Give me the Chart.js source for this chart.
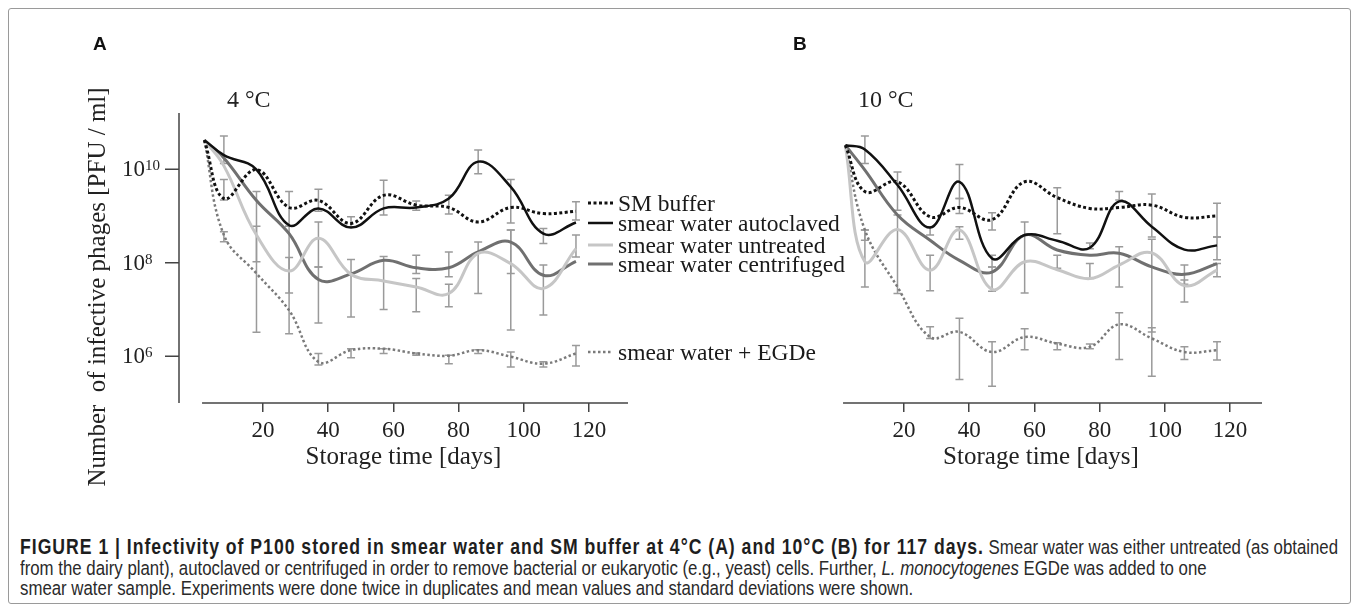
<!DOCTYPE html>
<html>
<head>
<meta charset="utf-8">
<script src="https://cdn.jsdelivr.net/npm/chart.js@4.4.1/dist/chart.umd.min.js"></script>
<style>
  body { margin: 0; background: #fff; width: 1358px; height: 604px; position: relative; overflow: hidden; font-family: "Liberation Serif", serif; }
  .frame { position: absolute; left: 8px; top: 8px; width: 1341px; height: 594px; border: 1px solid #9a9a9a; border-radius: 3px; }
  #chartA { position: absolute; left: 0; top: 0; }
  #chartB { position: absolute; left: 780px; top: 0; }
  .panel { position: absolute; top: 34px; font-family: "Liberation Sans", Arial, sans-serif; font-weight: bold; font-size: 19px; line-height: 1; color: #111; }
  .temp { position: absolute; top: 87px; font-size: 24px; line-height: 1; color: #222; }
  .caption { position: absolute; left: 20px; top: 537px; font-family: "Liberation Sans", Arial, sans-serif; font-size: 20.5px; line-height: 20.5px; color: #2a2a2a; white-space: nowrap; transform: scaleX(0.82); transform-origin: 0 0; }
  .caption b { font-size: 21.5px; letter-spacing: 1.2px; color: #1e1e1e; }
</style>
</head>
<body>
<div class="frame"></div>
<canvas id="chartA" width="860" height="520"></canvas>
<canvas id="chartB" width="578" height="520"></canvas>
<div class="panel" style="left:93px">A</div>
<div class="panel" style="left:793px">B</div>
<div class="temp" style="left:227px">4 °C</div>
<div class="temp" style="left:858px">10 °C</div>
<div class="caption">
<b>FIGURE 1 | Infectivity of P100 stored in smear water and SM buffer at 4°C (A) and 10°C (B) for 117 days.</b> Smear water was either untreated (as obtained<br>
from the dairy plant), autoclaved or centrifuged in order to remove bacterial or eukaryotic (e.g., yeast) cells. Further, <i>L. monocytogenes</i> EGDe was added to one<br>
smear water sample. Experiments were done twice in duplicates and mean values and standard deviations were shown.
</div>
<script>
// storage days (x) and axis ticks
const days = [2, 8, 18, 28, 37, 47, 57, 67, 77, 86, 96, 106, 116];
const xTicks = [20, 40, 60, 80, 100, 120];
const yTicks = [6, 8, 10];   // log10 PFU/ml

const seriesNames = ['SM buffer', 'smear water autoclaved', 'smear water untreated', 'smear water centrifuged', 'smear water + EGDe'];

// 4 °C, log10(PFU/ml)
const aSM   = [10.62, 9.37, 9.99, 9.18, 9.33, 8.84, 9.44, 9.23, 9.18, 8.87, 9.18, 9.05, 9.10];
const aAuto = [10.62, 10.30, 9.99, 8.80, 9.16, 8.75, 9.16, 9.18, 9.37, 10.16, 9.62, 8.62, 8.86];
const aUntr = [10.62, 10.07, 8.59, 7.82, 8.52, 7.75, 7.61, 7.48, 7.34, 8.20, 7.98, 7.45, 8.30];
const aCent = [10.62, 10.24, 9.33, 8.62, 7.64, 7.76, 8.05, 7.89, 7.89, 8.23, 8.44, 7.73, 8.03];
const aEGDe = [10.62, 8.59, 7.77, 6.98, 5.88, 6.13, 6.16, 6.06, 6.01, 6.13, 5.99, 5.84, 6.06];

// 10 °C, log10(PFU/ml)
const bSM   = [10.51, 9.52, 9.73, 8.98, 9.18, 8.92, 9.73, 9.39, 9.16, 9.18, 9.23, 8.97, 9.00];
const bAuto = [10.51, 10.42, 9.66, 8.75, 9.73, 8.09, 8.59, 8.47, 8.32, 9.31, 8.77, 8.28, 8.37];
const bUntr = [10.51, 8.02, 8.71, 7.84, 8.70, 7.43, 8.02, 7.85, 7.66, 7.95, 8.21, 7.51, 7.84];
const bCent = [10.51, 9.98, 9.02, 8.48, 8.05, 7.80, 8.59, 8.27, 8.16, 8.20, 7.91, 7.75, 7.98];
const bEGDe = [10.51, 8.70, 7.48, 6.41, 6.52, 6.09, 6.41, 6.27, 6.20, 6.68, 6.38, 6.09, 6.13];

// error bar ends [low, high], log10(PFU/ml)
const aSMErr   = [null, [9.34, 9.78], null, [8.78, 9.52], [9.10, 9.57], [8.77, 8.98], [9.02, 9.76], [9.12, 9.32], [9.04, 9.44], null, null, null, [8.91, 9.30]];
const aAutoErr = [null, [10.12, 10.71], null, null, null, null, null, null, null, [9.90, 10.41], [8.85, 9.78], [8.41, 8.73], null];
const aUntrErr = [null, null, [6.51, 8.78], [6.48, 8.11], [7.91, 8.87], [6.84, 8.07], [7.00, 8.13], [6.95, 7.66], [7.06, 7.54], null, [7.77, 8.70], [6.88, 7.95], [8.12, 8.59]];
const aCentErr = [null, null, [8.02, 9.52], [7.35, 8.78], [6.71, 7.91], null, null, [7.77, 8.16], [7.70, 8.23], [7.34, 8.44], [6.56, 8.70], null, null];
const aEGDeErr = [null, [8.45, 8.66], null, null, [5.81, 6.06], [5.97, 6.16], [6.06, 6.16], [6.02, 6.07], [5.84, 6.02], [6.06, 6.14], [5.77, 6.09], [5.77, 5.88], [5.79, 6.23]];

const bSMErr   = [null, null, [9.12, 9.94], null, [9.05, 9.37], [8.70, 9.07], null, [8.62, 9.60], null, null, [8.55, 9.47], null, [8.55, 9.27]];
const bAutoErr = [null, [10.12, 10.71], null, [8.59, 8.77], [9.37, 10.10], [7.91, 8.16], null, null, [8.30, 8.42], [9.34, 9.52], null, null, null];
const bUntrErr = [null, [7.48, 8.70], [7.34, 9.02], [7.40, 8.16], [8.50, 8.77], [7.39, 7.91], null, [7.88, 8.16], [7.66, 7.98], [7.48, 8.34], [6.52, 8.50], [7.16, 7.63], [7.70, 7.98]];
const bCentErr = [null, null, null, null, null, null, [7.35, 8.87], null, null, null, null, [7.54, 7.95], [8.06, 8.55]];
const bEGDeErr = [null, [8.48, 8.70], null, [6.38, 6.63], [5.50, 6.81], [5.36, 6.31], [6.14, 6.59], [6.14, 6.29], [6.16, 6.26], [5.93, 6.93], [5.57, 6.61], [5.93, 6.20], [5.92, 6.31]];

const serif = '"Liberation Serif", "Times New Roman", serif';
const styles = [
    { color: '#111', width: 3, dash: [3, 2.5] },
    { color: '#111', width: 2.5, dash: [] },
    { color: '#c6c6c6', width: 3, dash: [] },
    { color: '#707070', width: 3, dash: [] },
    { color: '#7a7a7a', width: 2.5, dash: [2.5, 2.5] }
];

function makeDatasets(values, errors) {
    return values.map((vals, k) => ({
        label: seriesNames[k],
        data: vals.map((v, i) => ({ x: days[i], y: v })),
        errors: errors[k],
        borderColor: styles[k].color,
        borderWidth: styles[k].width,
        borderDash: styles[k].dash,
        pointRadius: 0,
        tension: 0.4,
        fill: false
    }));
}

// vertical error bars with caps
const errorBars = {
    id: 'errorBars',
    beforeDatasetsDraw(chart) {
        const { ctx, scales: { x, y } } = chart;
        ctx.save();
        ctx.strokeStyle = '#9a9a9a';
        ctx.lineWidth = 1.5;
        chart.data.datasets.forEach(ds => {
            ds.errors.forEach((e, i) => {
                if (!e) return;
                const px = x.getPixelForValue(days[i]);
                const lo = y.getPixelForValue(e[0]);
                const hi = y.getPixelForValue(e[1]);
                ctx.beginPath();
                ctx.moveTo(px, lo); ctx.lineTo(px, hi);
                ctx.moveTo(px - 4, lo); ctx.lineTo(px + 4, lo);
                ctx.moveTo(px - 4, hi); ctx.lineTo(px + 4, hi);
                ctx.stroke();
            });
        });
        ctx.restore();
    }
};

// x axis line starts a little after day 0
const xAxisLine = {
    id: 'xAxisLine',
    afterDraw(chart) {
        const { ctx, chartArea, scales: { x } } = chart;
        ctx.save();
        ctx.strokeStyle = '#444';
        ctx.lineWidth = 1.5;
        ctx.beginPath();
        ctx.moveTo(x.getPixelForValue(1.3), chartArea.bottom);
        ctx.lineTo(chartArea.right, chartArea.bottom);
        ctx.stroke();
        ctx.restore();
    }
};

// y axis of panel A: line, ticks, 10^n labels, title
const logAxis = {
    id: 'logAxis',
    afterDraw(chart) {
        const { ctx, chartArea: { left, top, bottom }, scales: { y } } = chart;
        ctx.save();
        ctx.strokeStyle = '#444';
        ctx.lineWidth = 1.5;
        ctx.beginPath();
        ctx.moveTo(left, top); ctx.lineTo(left, bottom);
        yTicks.forEach(v => {
            const py = y.getPixelForValue(v);
            ctx.moveTo(left - 14, py); ctx.lineTo(left, py);
        });
        ctx.stroke();
        ctx.fillStyle = '#222';
        ctx.textAlign = 'left';
        ctx.textBaseline = 'alphabetic';
        yTicks.forEach(v => {
            const py = y.getPixelForValue(v);
            ctx.font = '23px ' + serif;
            ctx.fillText('10', left - 57, py + 7);
            const w = ctx.measureText('10').width;
            ctx.font = '15px ' + serif;
            ctx.fillText(String(v), left - 57 + w, py + 1);
        });
        ctx.translate(98, 287);
        ctx.rotate(-Math.PI / 2);
        ctx.textAlign = 'center';
        ctx.textBaseline = 'middle';
        ctx.font = '25px ' + serif;
        ctx.fillText('Number  of infective phages [PFU / ml]', 0, 0);
        ctx.restore();
    }
};

// legend next to the 4 °C curves
const legendRows = [203, 223, 245, 264, 352];
const sideLegend = {
    id: 'sideLegend',
    afterDraw(chart) {
        const { ctx } = chart;
        ctx.save();
        ctx.font = '23.5px ' + serif;
        ctx.textAlign = 'left';
        ctx.textBaseline = 'middle';
        seriesNames.forEach((name, k) => {
            const y = legendRows[k];
            ctx.strokeStyle = styles[k].color;
            ctx.lineWidth = styles[k].width;
            ctx.setLineDash(styles[k].dash);
            ctx.beginPath();
            ctx.moveTo(588, y); ctx.lineTo(613, y);
            ctx.stroke();
            ctx.fillStyle = '#1a1a1a';
            ctx.fillText(name, 618, y + 2);
        });
        ctx.restore();
    }
};

function panelOptions(xMin, xMax, padding) {
    return {
        responsive: false,
        animation: false,
        events: [],
        layout: { padding: padding },
        plugins: { legend: { display: false }, tooltip: { enabled: false } },
        scales: {
            x: {
                type: 'linear',
                min: xMin,
                max: xMax,
                afterBuildTicks: s => { s.ticks = xTicks.map(v => ({ value: v })); },
                afterFit: s => { s.height = 73; },
                border: { display: false },
                grid: { drawOnChartArea: false, drawTicks: true, tickLength: 9, color: '#444', lineWidth: 1.5 },
                ticks: { font: { family: serif, size: 23 }, color: '#222', padding: 5, maxRotation: 0, autoSkip: false },
                title: { display: true, text: 'Storage time [days]', font: { family: serif, size: 25 }, color: '#222', padding: { top: 0, bottom: 4 } }
            },
            y: { type: 'linear', display: false, min: 5.0, max: 11.2 }
        }
    };
}

new Chart(document.getElementById('chartA'), {
    type: 'line',
    data: { datasets: makeDatasets([aSM, aAuto, aUntr, aCent, aEGDe], [aSMErr, aAutoErr, aUntrErr, aCentErr, aEGDeErr]) },
    options: panelOptions(-5.77, 131.96, { left: 179, top: 113, right: 232, bottom: 44 }),
    plugins: [errorBars, xAxisLine, logAxis, sideLegend]
});

new Chart(document.getElementById('chartB'), {
    type: 'line',
    data: { datasets: makeDatasets([bSM, bAuto, bUntr, bCent, bEGDe], [bSMErr, bAutoErr, bUntrErr, bCentErr, bEGDeErr]) },
    options: panelOptions(-5.77, 129.8, { left: 40, top: 113, right: 96, bottom: 44 }),
    plugins: [errorBars, xAxisLine]
});
</script>
</body>
</html>
